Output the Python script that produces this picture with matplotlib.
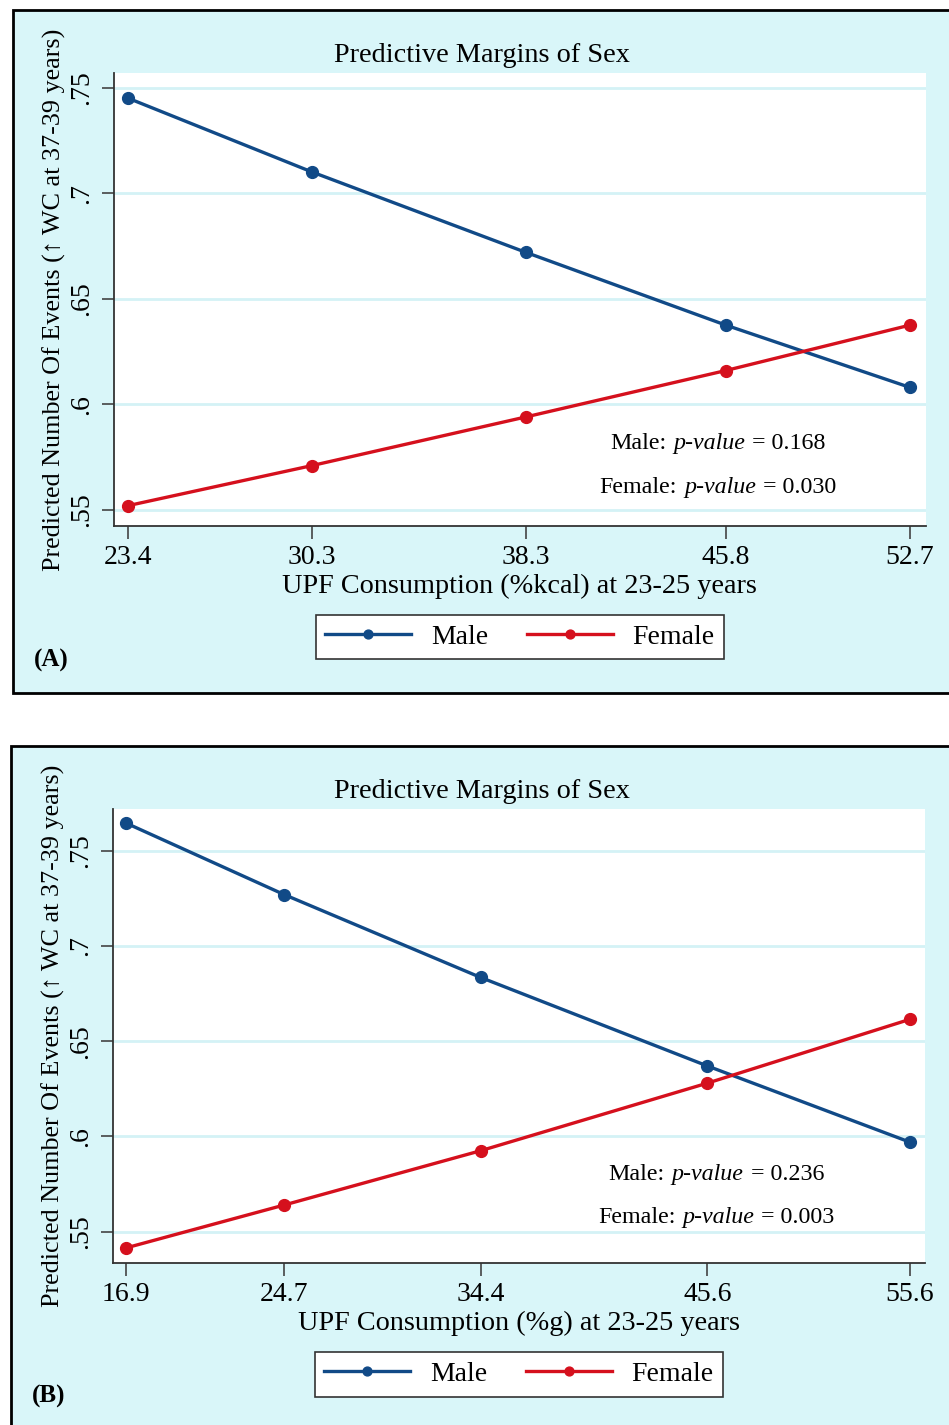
import numpy as np
import matplotlib
matplotlib.use('Agg')
import matplotlib.pyplot as plt
from matplotlib.patches import Rectangle
from matplotlib.offsetbox import TextArea, HPacker, AnnotationBbox
from matplotlib.ticker import FuncFormatter

plt.rcParams['font.family'] = ['Liberation Serif', 'DejaVu Serif']

# =====================
# data

# panel A: UPF (%kcal)
kcalX = [23.4, 30.3, 38.3, 45.8, 52.7]
kcalXLabels = ['23.4', '30.3', '38.3', '45.8', '52.7']
kcalMale = [0.745, 0.710, 0.672, 0.6375, 0.608]
kcalFemale = [0.552, 0.571, 0.594, 0.616, 0.6375]
kcalP = ['0.168', '0.030']

# panel B: UPF (%g)
gramX = [16.9, 24.7, 34.4, 45.6, 55.6]
gramXLabels = ['16.9', '24.7', '34.4', '45.6', '55.6']
gramMale = [0.7645, 0.727, 0.6835, 0.637, 0.597]
gramFemale = [0.5415, 0.564, 0.5925, 0.628, 0.6615]
gramP = ['0.236', '0.003']

yTicks = [0.55, 0.6, 0.65, 0.7, 0.75]

# colours
bgCyan = '#d9f6f9'
gridCyan = '#d4f2f6'
maleCol = '#114a87'
femaleCol = '#d5101d'


# =====================
# functions

def pvalue_box(ax, sex, pval, x, y):
    parts = [TextArea(sex + ':', textprops=dict(size=17.3, color='black')),
             TextArea('p-value', textprops=dict(size=17.3, style='italic', color='black')),
             TextArea('= ' + pval, textprops=dict(size=17.3, color='black'))]
    box = HPacker(children=parts, align='baseline', pad=0, sep=5)
    ab = AnnotationBbox(box, (x, y), xycoords='axes fraction', frameon=False,
                        box_alignment=(0.5, 0.5))
    ax.add_artist(ab)


def margins_panel(ax, xs, xlabels, male, female, xlim, ylim, xtitle, pvals, pxy):
    ax.set_facecolor('white')
    ax.plot(xs, male, '-o', color=maleCol, lw=2.4, ms=8.5, label='Male', zorder=3)
    ax.plot(xs, female, '-o', color=femaleCol, lw=2.4, ms=8.5, label='Female', zorder=3)
    ax.set_xlim(xlim)
    ax.set_ylim(ylim)
    ax.set_xticks(xs)
    ax.set_xticklabels(xlabels)
    ax.set_yticks(yTicks)
    ax.yaxis.set_major_formatter(FuncFormatter(lambda v, p: ('%g' % v).lstrip('0')))
    ax.grid(axis='y', color=gridCyan, lw=2)
    ax.set_axisbelow(True)
    for s in ['top', 'right']:
        ax.spines[s].set_visible(False)
    for s in ['left', 'bottom']:
        ax.spines[s].set_color('#333333')
        ax.spines[s].set_linewidth(1.3)
    ax.tick_params(axis='x', labelsize=20, length=9, width=1.2, color='#444444', pad=5)
    ax.tick_params(axis='y', labelsize=20, length=9, width=1.2, color='#444444', pad=5,
                   labelrotation=90)
    for lab in ax.get_yticklabels():
        lab.set_va('center')
    ax.set_ylabel('Predicted Number Of Events (\u2191 WC at 37-39 years)', fontsize=18.8)
    ax.yaxis.set_label_coords(-0.059, 0.5)
    ax.set_xlabel(xtitle, fontsize=20.3)
    ax.xaxis.set_label_coords(0.5, -0.106)
    leg = ax.legend(loc='center', bbox_to_anchor=(0.5, -0.245), ncol=2, fontsize=20,
                    frameon=True, fancybox=False, edgecolor='#333333', framealpha=1,
                    handlelength=3.1, handletextpad=0.7, columnspacing=1.4,
                    borderpad=0.35, markerscale=0.75)
    leg.get_frame().set_linewidth(1.2)
    pvalue_box(ax, 'Male', pvals[0], pxy[0], pxy[1])
    pvalue_box(ax, 'Female', pvals[1], pxy[0], pxy[2])


# =====================
# plot

fig = plt.figure(figsize=(9.49, 14.25), dpi=100)

fig.patches.append(Rectangle((0.0137, 0.5137), 1.0, 0.4793, transform=fig.transFigure,
                             facecolor=bgCyan, edgecolor='black', lw=2, zorder=-5))
fig.patches.append(Rectangle((0.0116, -0.02), 1.0, 0.4965, transform=fig.transFigure,
                             facecolor=bgCyan, edgecolor='black', lw=2, zorder=-5))

axA = fig.add_axes([0.1201, 0.6309, 0.8554, 0.3179])
margins_panel(axA, kcalX, kcalXLabels, kcalMale, kcalFemale, (22.88, 53.29),
              (0.5424, 0.7569), 'UPF Consumption (%kcal) at 23-25 years', kcalP,
              (0.744, 0.181, 0.0845))

axB = fig.add_axes([0.1191, 0.1137, 0.8556, 0.3186])
margins_panel(axB, gramX, gramXLabels, gramMale, gramFemale, (16.26, 56.34),
              (0.5336, 0.7719), 'UPF Consumption (%g) at 23-25 years', gramP,
              (0.743, 0.195, 0.101))

fig.text(0.508, 0.9614, 'Predictive Margins of Sex', ha='center', va='center', fontsize=20.3)
fig.text(0.508, 0.4449, 'Predictive Margins of Sex', ha='center', va='center', fontsize=20.3)
fig.text(0.036, 0.5368, '(A)', ha='left', va='center', fontsize=18, fontweight='bold')
fig.text(0.034, 0.0197, '(B)', ha='left', va='center', fontsize=18, fontweight='bold')

plt.savefig('out.png', dpi=100)
